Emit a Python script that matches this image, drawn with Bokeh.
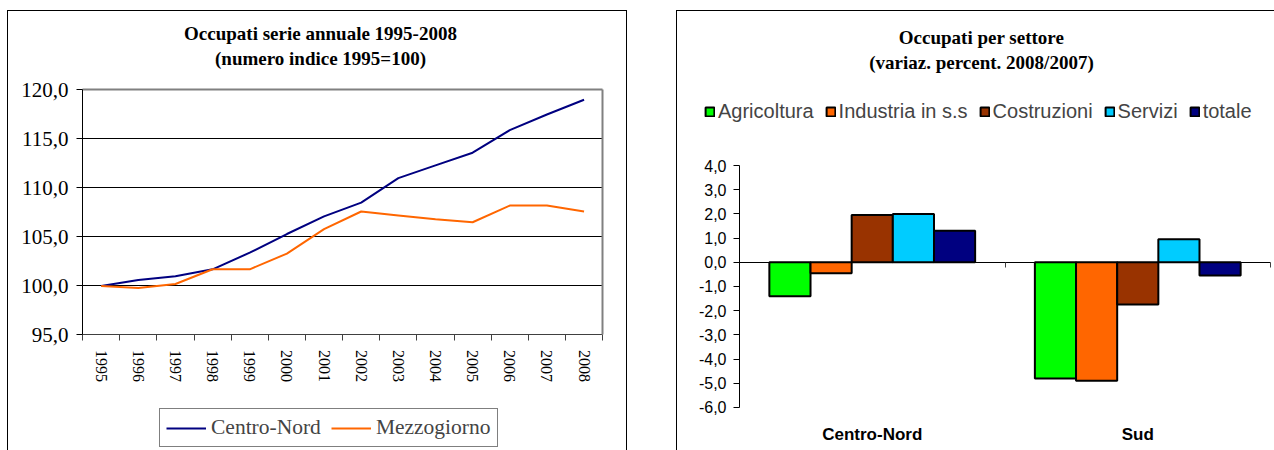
from bokeh.plotting import figure
from bokeh.models import (Range1d, FixedTicker, CustomJSTickFormatter, LinearAxis, Grid,
                          Legend, LegendItem, Label, ColumnDataSource)
from bokeh.layouts import row
from bokeh.transform import dodge
from bokeh.embed import file_html
from bokeh.resources import INLINE

# ---------------- data: left chart ----------------
years = [1995, 1996, 1997, 1998, 1999, 2000, 2001, 2002, 2003, 2004, 2005, 2006, 2007, 2008]
centro_nord = [100.0, 100.6, 101.0, 101.7, 103.4, 105.3, 107.1, 108.5, 111.0, 112.3, 113.6, 115.9, 117.5, 119.0]
mezzogiorno = [100.0, 99.8, 100.2, 101.7, 101.7, 103.3, 105.8, 107.6, 107.2, 106.8, 106.5, 108.2, 108.2, 107.6]
line_names = ["Centro-Nord", "Mezzogiorno"]
left_title = ["Occupati serie annuale 1995-2008", "(numero indice 1995=100)"]
left_yticks = [95, 100, 105, 110, 115, 120]

# ---------------- data: right chart ----------------
groups = ["Centro-Nord", "Sud"]
sectors = ["Agricoltura", "Industria in s.s", "Costruzioni", "Servizi", "totale"]
agricoltura = [-1.4, -4.8]
industria = [-0.45, -4.9]
costruzioni = [1.95, -1.75]
servizi = [2.0, 0.95]
totale = [1.3, -0.55]
right_title = ["Occupati per settore", "(variaz. percent. 2008/2007)"]
right_yticks = [-6, -5, -4, -3, -2, -1, 0, 1, 2, 3, 4]

line_colors = ["#000080", "#FF6600"]
sector_colors = ["#00FF00", "#FF6600", "#993300", "#00CCFF", "#000080"]

comma_fmt = CustomJSTickFormatter(code="return tick.toFixed(1).replace('.', ',');")

# ================= LEFT CHART =================
y_lo, y_hi = left_yticks[0], left_yticks[-1]
x_lo, x_hi = years[0] - 0.5, years[-1] + 0.5
p1 = figure(width=630, height=450, output_backend="svg", toolbar_location=None,
            x_range=Range1d(1992.29, 2009.25), y_range=Range1d(83.21, 129.13),
            min_border_left=0, min_border_right=0, min_border_top=0, min_border_bottom=0,
            background_fill_alpha=0, border_fill_alpha=0, x_axis_location=None, y_axis_location=None)
p1.title.visible = False
p1.outline_line_color = None
p1.styles = {"box-shadow": "inset 7px 0 0 0 #fff, inset 0 10px 0 0 #fff, inset -3px 0 0 0 #fff, "
                           "inset 8px 0 0 0 #000, inset 0 11px 0 0 #000, inset -4px 0 0 0 #000"}

p1.xgrid.visible = False
p1.ygrid.visible = False

# y axis (left side of plot area)
ya = LinearAxis(fixed_location=x_lo, bounds=(y_lo, y_hi), ticker=FixedTicker(ticks=left_yticks),
                formatter=comma_fmt)
ya.major_label_text_font = "Liberation Serif"
ya.major_label_text_font_size = "21px"
ya.major_label_text_color = "black"
ya.major_tick_out = 6
ya.major_tick_in = 0
ya.minor_tick_line_color = None
ya.major_label_standoff = 8
ya.axis_line_color = "black"
p1.add_layout(ya, "left")

# x axis at 95
xa = LinearAxis(fixed_location=y_lo, bounds=(x_lo, x_hi),
                ticker=FixedTicker(ticks=years, minor_ticks=[y - 0.5 for y in years] + [x_hi]),
                formatter=CustomJSTickFormatter(code="return tick.toFixed(0);"))
xa.major_label_orientation = "vertical"
xa.major_label_text_font = "Liberation Serif"
xa.major_label_text_font_size = "16px"
xa.major_label_text_color = "black"
xa.major_tick_out = 0
xa.major_tick_in = 0
xa.minor_tick_out = 6
xa.minor_tick_in = 0
xa.minor_tick_line_color = "#404040"
xa.major_label_standoff = 9
xa.axis_line_color = "#404040"
p1.add_layout(xa, "below")

# plot-area border (top and right, grey)
ta = LinearAxis(fixed_location=y_hi, bounds=(x_lo, x_hi), ticker=FixedTicker(ticks=[]),
                axis_line_color="#808080", axis_line_width=2, major_label_text_font_size="0px",
                major_tick_line_color=None, minor_tick_line_color=None)
p1.add_layout(ta, "above")
ra = LinearAxis(fixed_location=x_hi, bounds=(y_lo, y_hi), ticker=FixedTicker(ticks=[]),
                axis_line_color="#808080", axis_line_width=2, major_label_text_font_size="0px",
                major_tick_line_color=None, minor_tick_line_color=None)
p1.add_layout(ra, "right")

# horizontal gridlines 100..115 limited to the plot area
g1 = Grid(dimension=1, ticker=FixedTicker(ticks=left_yticks[1:-1]), grid_line_color="black",
          grid_line_width=1, cross_bounds=(x_lo, x_hi))
p1.add_layout(g1)

r_cn = p1.line(years, centro_nord, line_color=line_colors[0], line_width=2)
r_mz = p1.line(years, mezzogiorno, line_color=line_colors[1], line_width=2)

for i, txt in enumerate(left_title):
    p1.add_layout(Label(x=320, y=417 - 25 * i, x_units="screen", y_units="screen", text=txt,
                        text_align="center", text_baseline="middle", text_font="Liberation Serif",
                        text_font_style="bold", text_font_size="19px", text_color="black"))

leg1 = Legend(items=[LegendItem(label=line_names[0], renderers=[r_cn]),
                     LegendItem(label=line_names[1], renderers=[r_mz])],
              location=(159, 3), orientation="horizontal",
              border_line_color="black", border_line_width=1,
              background_fill_color="white", background_fill_alpha=1,
              padding=6, spacing=10, label_standoff=5, margin=0,
              glyph_width=40, glyph_height=20, label_height=20,
              label_text_font="Liberation Serif", label_text_font_size="21.5px")
p1.add_layout(leg1)

# ================= RIGHT CHART =================
group_pos = list(range(len(groups)))
src = ColumnDataSource(dict(pos=group_pos, Agricoltura=agricoltura, Industria=industria,
                            Costruzioni=costruzioni, Servizi=servizi, totale=totale))
cols = ["Agricoltura", "Industria", "Costruzioni", "Servizi", "totale"]
gx_lo, gx_hi = group_pos[0] - 0.5, group_pos[-1] + 0.5
ry_lo, ry_hi = right_yticks[0], right_yticks[-1]

p2 = figure(width=644, height=450, output_backend="svg", toolbar_location=None,
            x_range=Range1d(-0.9105, 1.515), y_range=Range1d(-7.78, 10.82),
            min_border_left=0, min_border_right=0, min_border_top=0, min_border_bottom=0,
            background_fill_alpha=0, border_fill_alpha=0, x_axis_location=None, y_axis_location=None)
p2.title.visible = False
p2.outline_line_color = None
p2.styles = {"box-shadow": "inset 46px 0 0 0 #fff, inset 0 10px 0 0 #fff, "
                           "inset 47px 0 0 0 #000, inset 0 11px 0 0 #000"}
p2.xgrid.visible = False
p2.ygrid.visible = False

bw = 0.155
offsets = [-2 * bw, -bw, 0, bw, 2 * bw]
bar_items = []
for c, name, color, off in zip(cols, sectors, sector_colors, offsets):
    r = p2.vbar(x=dodge("pos", off), top=c, bottom=0, width=bw, source=src,
                fill_color=color, line_color="black", line_width=2)
    bar_items.append(LegendItem(label=name, renderers=[r]))

# y axis
ya2 = LinearAxis(fixed_location=gx_lo, bounds=(ry_lo, ry_hi), ticker=FixedTicker(ticks=right_yticks),
                 formatter=comma_fmt)
ya2.major_label_text_font = "Liberation Sans"
ya2.major_label_text_font_size = "16px"
ya2.major_label_text_color = "black"
ya2.major_tick_out = 6
ya2.major_tick_in = 0
ya2.minor_tick_line_color = None
ya2.major_label_standoff = 7
ya2.axis_line_color = "black"
p2.add_layout(ya2, "left")

# category axis line at zero
za = LinearAxis(fixed_location=0, bounds=(gx_lo, gx_hi),
                ticker=FixedTicker(ticks=[], minor_ticks=[gx_lo] + [p + 0.5 for p in group_pos]),
                axis_line_color="black", axis_line_width=1, major_label_text_font_size="0px",
                major_tick_line_color=None, minor_tick_out=5, minor_tick_in=0,
                minor_tick_line_color="#404040")
p2.add_layout(za, "below")

# category labels at the bottom
ca = LinearAxis(fixed_location=ry_lo, bounds=(gx_lo, gx_hi), ticker=FixedTicker(ticks=group_pos),
                formatter=CustomJSTickFormatter(args=dict(names=groups),
                                                code="return names[Math.round(tick)] || '';"),
                axis_line_color=None, major_tick_line_color=None, minor_tick_line_color=None)
ca.major_label_text_font = "Liberation Sans"
ca.major_label_text_font_style = "bold"
ca.major_label_text_font_size = "17px"
ca.major_label_text_color = "black"
ca.major_label_standoff = 12
p2.add_layout(ca, "below")

for i, txt in enumerate(right_title):
    p2.add_layout(Label(x=351, y=413 - 25 * i, x_units="screen", y_units="screen", text=txt,
                        text_align="center", text_baseline="middle", text_font="Liberation Serif",
                        text_font_style="bold", text_font_size="19px", text_color="black"))

leg2 = Legend(items=bar_items, location=(74, 327), orientation="horizontal",
              border_line_alpha=0, background_fill_alpha=0,
              padding=0, spacing=11, label_standoff=3, margin=0,
              glyph_width=11, glyph_height=11, label_height=20,
              label_text_font="Liberation Sans", label_text_font_size="20px")
p2.add_layout(leg2)

layout = row(p1, p2)

open("out.html", "w").write(file_html(layout, INLINE))
